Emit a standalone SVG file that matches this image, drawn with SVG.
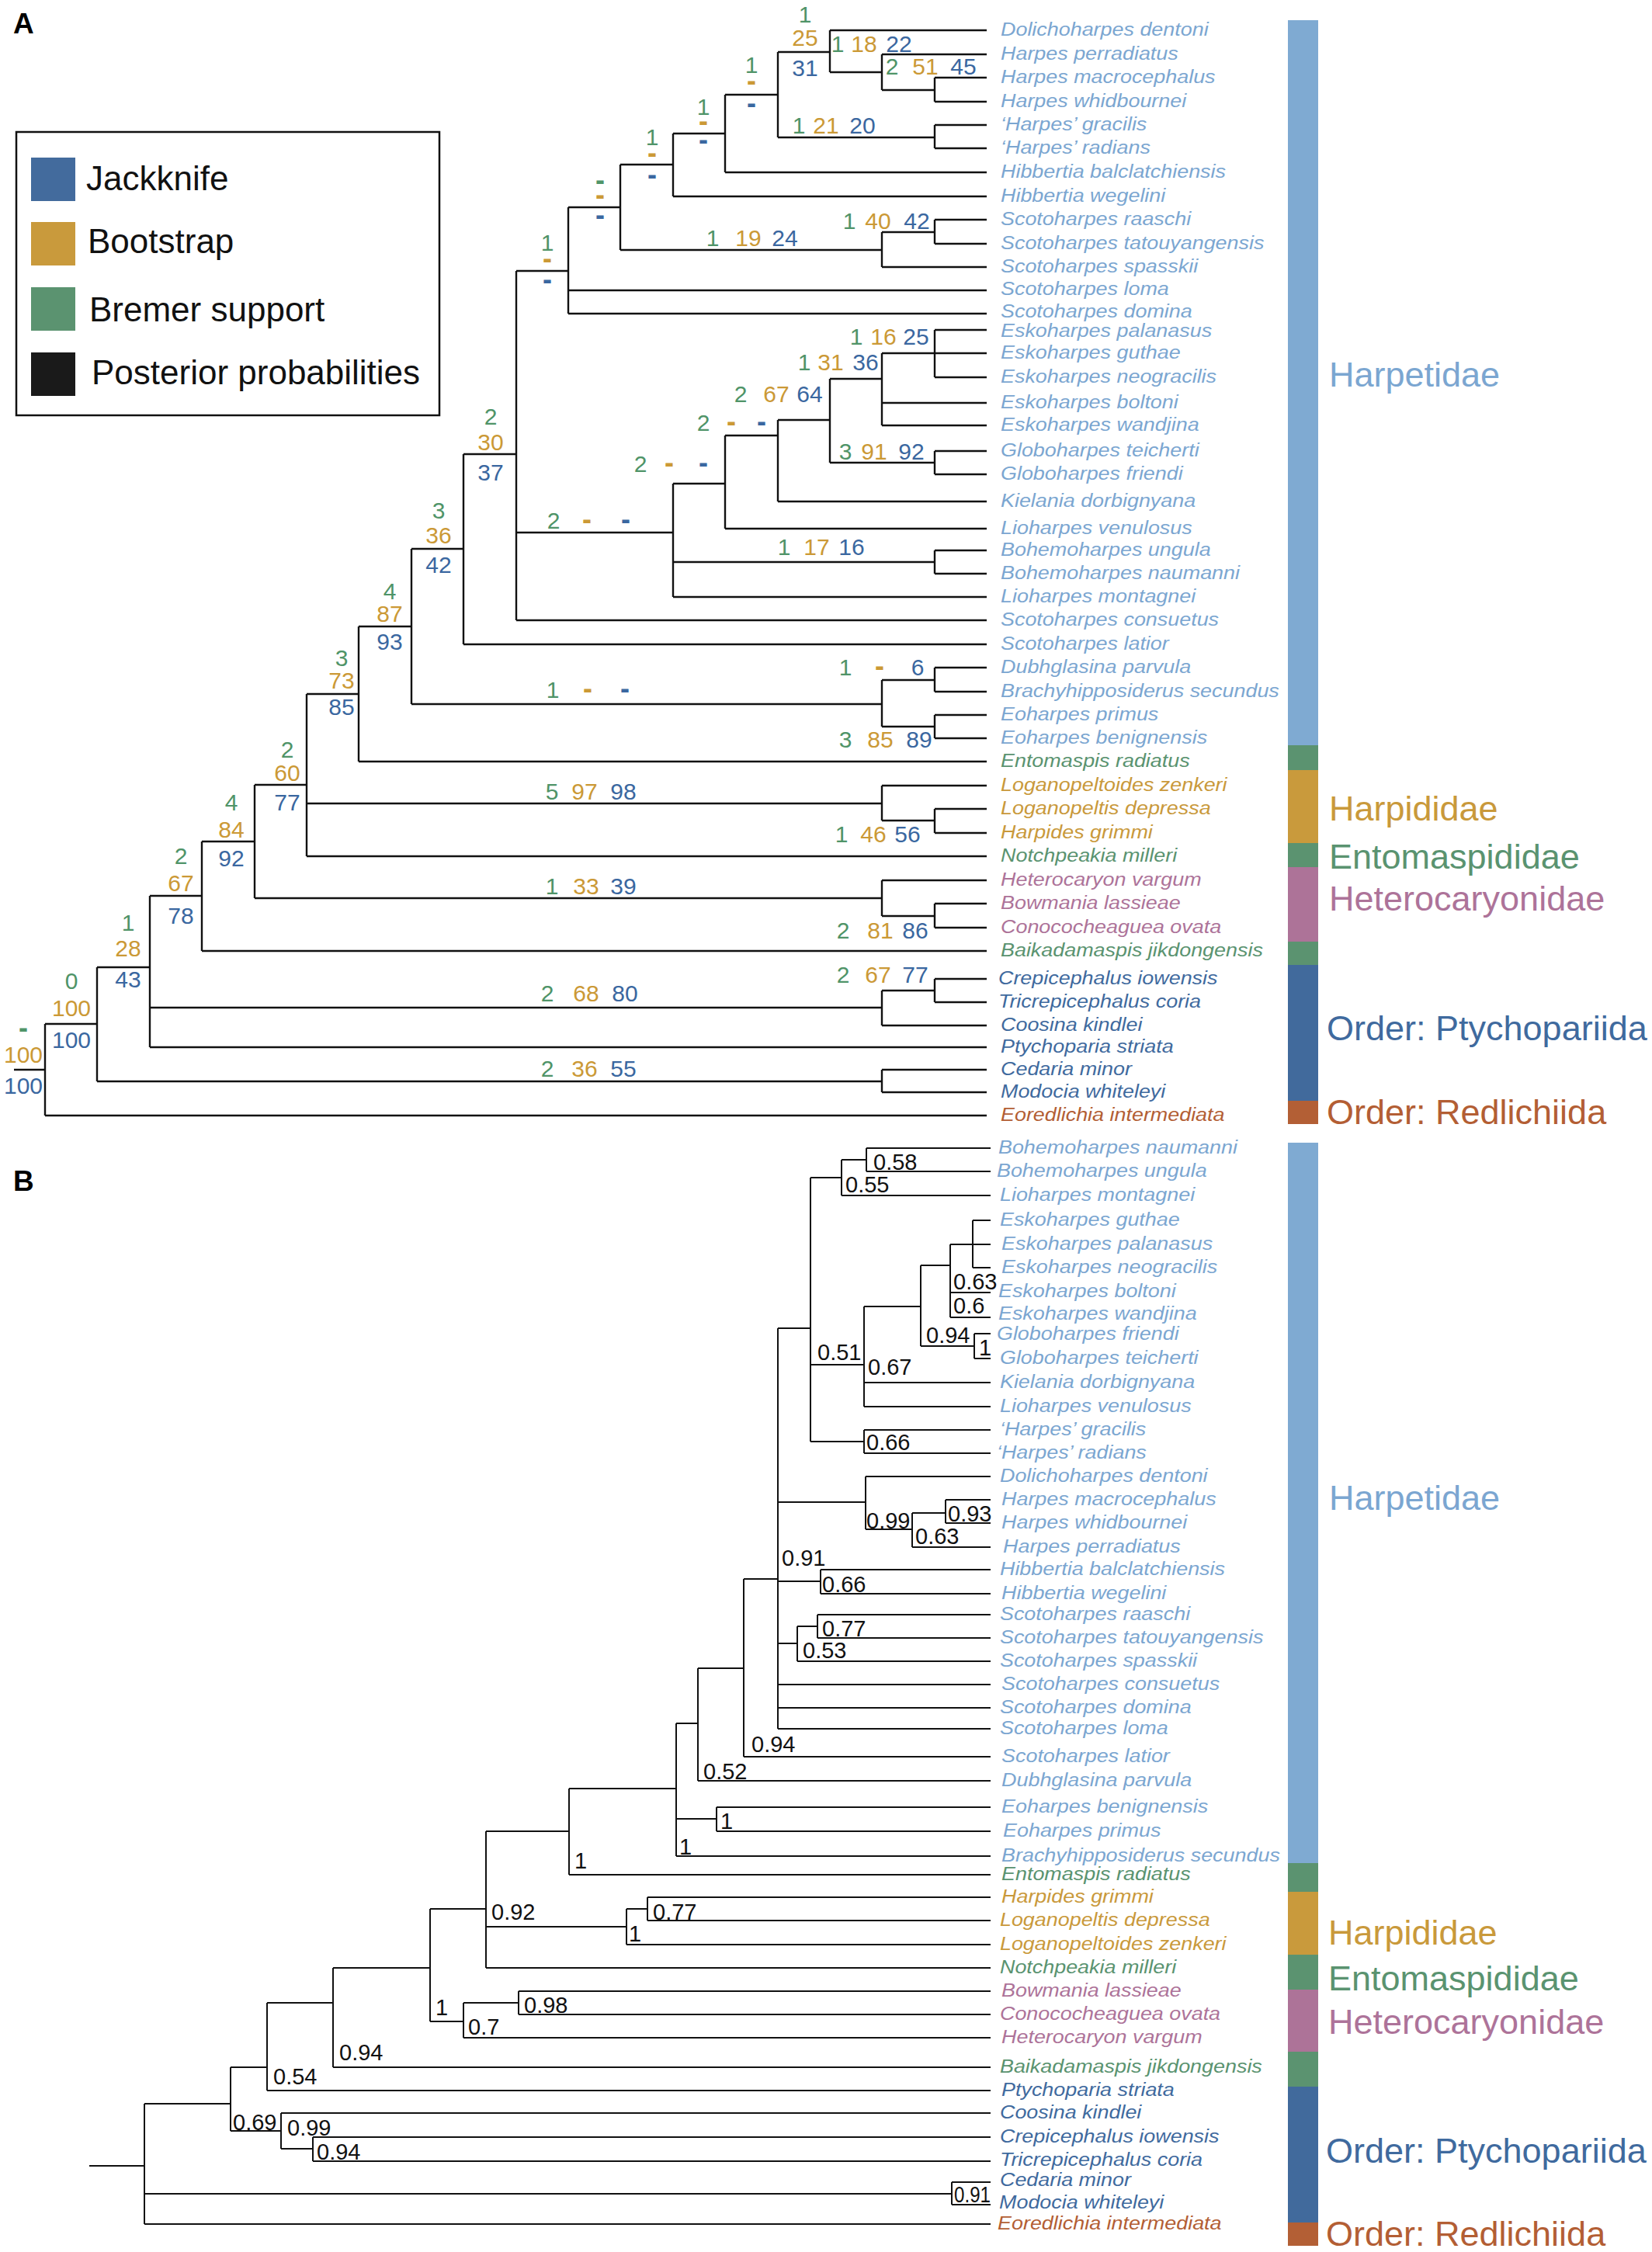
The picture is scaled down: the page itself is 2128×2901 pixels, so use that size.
<svg xmlns="http://www.w3.org/2000/svg" width="2128" height="2901" viewBox="0 0 2128 2901">
<style>
text{font-family:"Liberation Sans",Arial,sans-serif}
.tx{font-size:23px;font-style:italic}
.lb{fill:#7BA6D1}.gr{fill:#5A9370}.go{fill:#C9993B}.pk{fill:#AD7399}.db{fill:#3F6A9E}.rd{fill:#B35E34}
.n{font-size:30px;text-anchor:middle}
.ng{fill:#4F9468}.no{fill:#CB9936}.nb{fill:#3A67A0}
.d{font-weight:bold;font-size:36px}
.pp{font-size:29px;fill:#111}
.grp{font-size:45px}
.e{fill:none;stroke:#111;stroke-width:2.4}
.eb{fill:none;stroke:#111;stroke-width:2}
.lg{font-size:44px;fill:#111}
.pl{font-size:37px;font-weight:bold;fill:#000}
</style>
<rect width="2128" height="2901" fill="#fff"/>
<text class="pl" x="17" y="43">A</text>
<text class="pl" x="17" y="1534">B</text>
<g id="legend">
<rect x="21" y="170" width="545" height="365" fill="#fff" stroke="#111" stroke-width="2.5"/>
<rect x="40" y="203" width="57" height="56" fill="#436B9D"/>
<rect x="40" y="286" width="57" height="56" fill="#C99A3C"/>
<rect x="40" y="370" width="57" height="56" fill="#5B9370"/>
<rect x="40" y="454" width="57" height="56" fill="#1A1A1A"/>
<text class="lg" x="111" y="245">Jackknife</text>
<text class="lg" x="113" y="326">Bootstrap</text>
<text class="lg" x="115" y="414">Bremer support</text>
<text class="lg" x="118" y="495">Posterior probabilities</text>
</g>
<g id="A-edges" class="e">
<path d="M18 1378H58M58 1319V1437M58 1319H125M58 1437H1271"/>
<path d="M125 1246V1393M125 1246H193M125 1393H1136"/>
<path d="M193 1154V1349M193 1154H260M193 1298H1136M193 1349H1271"/>
<path d="M260 1084V1225M260 1084H328M260 1225H1271"/>
<path d="M328 1011V1157M328 1011H395M328 1157H1136"/>
<path d="M395 894V1103M395 894H462M395 1035H1136M395 1103H1271"/>
<path d="M462 807V981M462 807H530M462 981H1271"/>
<path d="M530 707V907M530 707H597M530 907H1136"/>
<path d="M597 585V830M597 585H665M597 830H1271"/>
<path d="M665 349V799M665 349H732M665 686H867M665 799H1271"/>
<path d="M732 267V404M732 267H799M732 374H1271M732 404H1271"/>
<path d="M799 212V322M799 212H867M799 322H1136"/>
<path d="M867 172V253M867 172H934M867 253H1271"/>
<path d="M934 122V222M934 122H1002M934 222H1271"/>
<path d="M1002 67V177M1002 67H1069M1002 177H1204"/>
<path d="M1069 39V93M1069 39H1271M1069 93H1136"/>
<path d="M1136 70V116M1136 70H1271M1136 116H1204"/>
<path d="M1204 100V131M1204 100H1271M1204 131H1271"/>
<path d="M1204 161V191M1204 161H1271M1204 191H1271"/>
<path d="M1136 299V344M1136 299H1204M1136 344H1271"/>
<path d="M1204 283V314M1204 283H1271M1204 314H1271"/>
<path d="M867 623V769M867 623H934M867 724H1204M867 769H1271"/>
<path d="M934 561V681M934 561H1002M934 681H1271"/>
<path d="M1002 541V646M1002 541H1069M1002 646H1271"/>
<path d="M1069 488V596M1069 488H1136M1069 596H1204"/>
<path d="M1136 455V548M1136 455H1204M1136 519H1271M1136 548H1271"/>
<path d="M1204 425V486M1204 425H1271M1204 455H1271M1204 486H1271"/>
<path d="M1204 581V611M1204 581H1271M1204 611H1271"/>
<path d="M1204 709V739M1204 709H1271M1204 739H1271"/>
<path d="M1136 876V936M1136 876H1204M1136 936H1204"/>
<path d="M1204 860V891M1204 860H1271M1204 891H1271"/>
<path d="M1204 921V951M1204 921H1271M1204 951H1271"/>
<path d="M1136 1012V1057M1136 1012H1271M1136 1057H1204"/>
<path d="M1204 1042V1073M1204 1042H1271M1204 1073H1271"/>
<path d="M1136 1134V1180M1136 1134H1271M1136 1180H1204"/>
<path d="M1204 1164V1195M1204 1164H1271M1204 1195H1271"/>
<path d="M1136 1276V1321M1136 1276H1204M1136 1321H1271"/>
<path d="M1204 1261V1291M1204 1261H1271M1204 1291H1271"/>
<path d="M1136 1378V1407M1136 1378H1271M1136 1407H1271"/>
</g>
<g id="A-support" class="n">
<g id="A-root"><text class="ng d" x="30" y="1336">-</text><text class="no" x="30" y="1369">100</text><text class="nb" x="30" y="1409">100</text></g>
<g id="A-n2"><text class="ng" x="92" y="1274">0</text><text class="no" x="92" y="1309">100</text><text class="nb" x="92" y="1350">100</text></g>
<g id="A-n3"><text class="ng" x="165" y="1199">1</text><text class="no" x="165" y="1232">28</text><text class="nb" x="165" y="1272">43</text></g>
<g id="A-n4"><text class="ng" x="233" y="1113">2</text><text class="no" x="233" y="1148">67</text><text class="nb" x="233" y="1190">78</text></g>
<g id="A-n5"><text class="ng" x="298" y="1044">4</text><text class="no" x="298" y="1079">84</text><text class="nb" x="298" y="1116">92</text></g>
<g id="A-n6"><text class="ng" x="370" y="976">2</text><text class="no" x="370" y="1006">60</text><text class="nb" x="370" y="1044">77</text></g>
<g id="A-n7"><text class="ng" x="440" y="858">3</text><text class="no" x="440" y="887">73</text><text class="nb" x="440" y="921">85</text></g>
<g id="A-n8"><text class="ng" x="502" y="772">4</text><text class="no" x="502" y="801">87</text><text class="nb" x="502" y="837">93</text></g>
<g id="A-n9"><text class="ng" x="565" y="668">3</text><text class="no" x="565" y="700">36</text><text class="nb" x="565" y="738">42</text></g>
<g id="A-n10"><text class="ng" x="632" y="547">2</text><text class="no" x="632" y="580">30</text><text class="nb" x="632" y="619">37</text></g>
<g id="A-n11"><text class="ng" x="705" y="323">1</text><text class="no d" x="705" y="345">-</text><text class="nb d" x="705" y="372">-</text></g>
<g id="A-n12"><text class="ng d" x="773" y="244">-</text><text class="no d" x="773" y="263">-</text><text class="nb d" x="773" y="289">-</text></g>
<g id="A-n13"><text class="ng" x="840" y="187">1</text><text class="no d" x="840" y="209">-</text><text class="nb d" x="840" y="237">-</text></g>
<g id="A-n14"><text class="ng" x="906" y="148">1</text><text class="no d" x="906" y="168">-</text><text class="nb d" x="906" y="192">-</text></g>
<g id="A-n15"><text class="ng" x="968" y="94">1</text><text class="no d" x="968" y="116">-</text><text class="nb d" x="968" y="145">-</text></g>
<g id="A-n16"><text class="ng" x="1037" y="29">1</text><text class="no" x="1037" y="59">25</text><text class="nb" x="1037" y="98">31</text></g>
<g id="A-n17"><text class="ng" x="1079" y="67">1</text><text class="no" x="1113" y="67">18</text><text class="nb" x="1158" y="67">22</text></g>
<g id="A-n18"><text class="ng" x="1149" y="96">2</text><text class="no" x="1192" y="96">51</text><text class="nb" x="1241" y="96">45</text></g>
<g id="A-hg"><text class="ng" x="1029" y="172">1</text><text class="no" x="1064" y="172">21</text><text class="nb" x="1111" y="172">20</text></g>
<g id="A-sc"><text class="ng" x="918" y="317">1</text><text class="no" x="964" y="317">19</text><text class="nb" x="1011" y="317">24</text></g>
<g id="A-sr"><text class="ng" x="1094" y="295">1</text><text class="no" x="1131" y="295">40</text><text class="nb" x="1181" y="295">42</text></g>
<g id="A-nf"><text class="ng" x="1103" y="444">1</text><text class="no" x="1138" y="444">16</text><text class="nb" x="1180" y="444">25</text></g>
<g id="A-ne"><text class="ng" x="1036" y="477">1</text><text class="no" x="1070" y="477">31</text><text class="nb" x="1115" y="477">36</text></g>
<g id="A-nd"><text class="ng" x="954" y="518">2</text><text class="no" x="1000" y="518">67</text><text class="nb" x="1043" y="518">64</text></g>
<g id="A-nc"><text class="ng" x="906" y="555">2</text><text class="no d" x="942" y="555">-</text><text class="nb d" x="981" y="555">-</text></g>
<g id="A-nb"><text class="ng" x="825" y="608">2</text><text class="no d" x="862" y="608">-</text><text class="nb d" x="906" y="608">-</text></g>
<g id="A-na"><text class="ng" x="713" y="681">2</text><text class="no d" x="756" y="681">-</text><text class="nb d" x="806" y="681">-</text></g>
<g id="A-gg"><text class="ng" x="1089" y="592">3</text><text class="no" x="1126" y="592">91</text><text class="nb" x="1174" y="592">92</text></g>
<g id="A-bn"><text class="ng" x="1010" y="715">1</text><text class="no" x="1052" y="715">17</text><text class="nb" x="1097" y="715">16</text></g>
<g id="A-dbn"><text class="ng" x="1089" y="870">1</text><text class="no d" x="1133" y="870">-</text><text class="nb" x="1182" y="870">6</text></g>
<g id="A-eo"><text class="ng" x="712" y="899">1</text><text class="no d" x="757" y="899">-</text><text class="nb d" x="805" y="899">-</text></g>
<g id="A-ee"><text class="ng" x="1089" y="963">3</text><text class="no" x="1134" y="963">85</text><text class="nb" x="1184" y="963">89</text></g>
<g id="A-har"><text class="ng" x="711" y="1030">5</text><text class="no" x="753" y="1030">97</text><text class="nb" x="803" y="1030">98</text></g>
<g id="A-lh"><text class="ng" x="1084" y="1085">1</text><text class="no" x="1125" y="1085">46</text><text class="nb" x="1169" y="1085">56</text></g>
<g id="A-het"><text class="ng" x="711" y="1152">1</text><text class="no" x="755" y="1152">33</text><text class="nb" x="803" y="1152">39</text></g>
<g id="A-bc"><text class="ng" x="1086" y="1209">2</text><text class="no" x="1134" y="1209">81</text><text class="nb" x="1179" y="1209">86</text></g>
<g id="A-cct"><text class="ng" x="705" y="1290">2</text><text class="no" x="755" y="1290">68</text><text class="nb" x="805" y="1290">80</text></g>
<g id="A-ct"><text class="ng" x="1086" y="1266">2</text><text class="no" x="1131" y="1266">67</text><text class="nb" x="1179" y="1266">77</text></g>
<g id="A-cm"><text class="ng" x="705" y="1387">2</text><text class="no" x="753" y="1387">36</text><text class="nb" x="803" y="1387">55</text></g>
</g>
<g id="A-taxa" class="tx" transform="translate(1289 0) scale(1.17 1)">
<g id="A-t01"><text class="lb" x="0" y="46">Dolichoharpes dentoni</text></g>
<g id="A-t02"><text class="lb" x="0" y="77">Harpes perradiatus</text></g>
<g id="A-t03"><text class="lb" x="0" y="107">Harpes macrocephalus</text></g>
<g id="A-t04"><text class="lb" x="0" y="138">Harpes whidbournei</text></g>
<g id="A-t05"><text class="lb" x="0" y="168">‘Harpes’ gracilis</text></g>
<g id="A-t06"><text class="lb" x="0" y="198">‘Harpes’ radians</text></g>
<g id="A-t07"><text class="lb" x="0" y="229">Hibbertia balclatchiensis</text></g>
<g id="A-t08"><text class="lb" x="0" y="260">Hibbertia wegelini</text></g>
<g id="A-t09"><text class="lb" x="0" y="290">Scotoharpes raaschi</text></g>
<g id="A-t10"><text class="lb" x="0" y="321">Scotoharpes tatouyangensis</text></g>
<g id="A-t11"><text class="lb" x="0" y="351">Scotoharpes spasskii</text></g>
<g id="A-t12"><text class="lb" x="0" y="380">Scotoharpes loma</text></g>
<g id="A-t13"><text class="lb" x="0" y="409">Scotoharpes domina</text></g>
<g id="A-t14"><text class="lb" x="0" y="434">Eskoharpes palanasus</text></g>
<g id="A-t15"><text class="lb" x="0" y="462">Eskoharpes guthae</text></g>
<g id="A-t16"><text class="lb" x="0" y="493">Eskoharpes neogracilis</text></g>
<g id="A-t17"><text class="lb" x="0" y="526">Eskoharpes boltoni</text></g>
<g id="A-t18"><text class="lb" x="0" y="555">Eskoharpes wandjina</text></g>
<g id="A-t19"><text class="lb" x="0" y="588">Globoharpes teicherti</text></g>
<g id="A-t20"><text class="lb" x="0" y="618">Globoharpes friendi</text></g>
<g id="A-t21"><text class="lb" x="0" y="653">Kielania dorbignyana</text></g>
<g id="A-t22"><text class="lb" x="0" y="688">Lioharpes venulosus</text></g>
<g id="A-t23"><text class="lb" x="0" y="716">Bohemoharpes ungula</text></g>
<g id="A-t24"><text class="lb" x="0" y="746">Bohemoharpes naumanni</text></g>
<g id="A-t25"><text class="lb" x="0" y="776">Lioharpes montagnei</text></g>
<g id="A-t26"><text class="lb" x="0" y="806">Scotoharpes consuetus</text></g>
<g id="A-t27"><text class="lb" x="0" y="837">Scotoharpes latior</text></g>
<g id="A-t28"><text class="lb" x="0" y="867">Dubhglasina parvula</text></g>
<g id="A-t29"><text class="lb" x="0" y="898">Brachyhipposiderus secundus</text></g>
<g id="A-t30"><text class="lb" x="0" y="928">Eoharpes primus</text></g>
<g id="A-t31"><text class="lb" x="0" y="958">Eoharpes benignensis</text></g>
<g id="A-t32"><text class="gr" x="0" y="988">Entomaspis radiatus</text></g>
<g id="A-t33"><text class="go" x="0" y="1019">Loganopeltoides zenkeri</text></g>
<g id="A-t34"><text class="go" x="0" y="1049">Loganopeltis depressa</text></g>
<g id="A-t35"><text class="go" x="0" y="1080">Harpides grimmi</text></g>
<g id="A-t36"><text class="gr" x="0" y="1110">Notchpeakia milleri</text></g>
<g id="A-t37"><text class="pk" x="0" y="1141">Heterocaryon vargum</text></g>
<g id="A-t38"><text class="pk" x="0" y="1171">Bowmania lassieae</text></g>
<g id="A-t39"><text class="pk" x="0" y="1202">Conococheaguea ovata</text></g>
<g id="A-t40"><text class="gr" x="0" y="1232">Baikadamaspis jikdongensis</text></g>
<g id="A-t41"><text class="db" x="-2.6" y="1268">Crepicephalus iowensis</text></g>
<g id="A-t42"><text class="db" x="-2.6" y="1298">Tricrepicephalus coria</text></g>
<g id="A-t43"><text class="db" x="0" y="1328">Coosina kindlei</text></g>
<g id="A-t44"><text class="db" x="0" y="1356">Ptychoparia striata</text></g>
<g id="A-t45"><text class="db" x="0" y="1385">Cedaria minor</text></g>
<g id="A-t46"><text class="db" x="0" y="1414">Modocia whiteleyi</text></g>
<g id="A-t47"><text class="rd" x="0" y="1444">Eoredlichia intermediata</text></g>
</g>
<g id="A-bar">
<rect x="1659" y="26" width="39" height="934" fill="#7FAAD2"/>
<rect x="1659" y="960" width="39" height="32" fill="#5B9370"/>
<rect x="1659" y="992" width="39" height="94" fill="#C99A3C"/>
<rect x="1659" y="1086" width="39" height="31" fill="#5B9370"/>
<rect x="1659" y="1117" width="39" height="96" fill="#AD7398"/>
<rect x="1659" y="1213" width="39" height="30" fill="#5B9370"/>
<rect x="1659" y="1243" width="39" height="175" fill="#416A9C"/>
<rect x="1659" y="1418" width="39" height="30" fill="#B35F35"/>
</g>
<g id="A-groups" class="grp">
<text class="lb" x="1712" y="498">Harpetidae</text>
<text class="go" x="1712" y="1057">Harpididae</text>
<text class="gr" x="1712" y="1119">Entomaspididae</text>
<text class="pk" x="1712" y="1173">Heterocaryonidae</text>
<text class="db" x="1709" y="1340">Order: Ptychopariida</text>
<text class="rd" x="1709" y="1448">Order: Redlichiida</text>
</g>
<g id="B-edges" class="eb">
<path d="M115 2790H186M186 2710V2865M186 2710H297M186 2826H1226M186 2865H1276"/>
<path d="M297 2663V2745M297 2663H344M297 2745H362"/>
<path d="M344 2580V2693M344 2580H429M344 2693H1276"/>
<path d="M362 2722V2768M362 2722H1276M362 2768H403"/>
<path d="M403 2753V2784M403 2753H1276M403 2784H1276"/>
<path d="M429 2535V2663M429 2535H554M429 2663H1276"/>
<path d="M554 2459V2604M554 2459H626M554 2604H597"/>
<path d="M597 2580V2625M597 2580H668M597 2625H1276"/>
<path d="M668 2565V2595M668 2565H1276M668 2595H1276"/>
<path d="M626 2359V2535M626 2359H733M626 2482H807M626 2535H1276"/>
<path d="M807 2459V2505M807 2459H834M807 2505H1276"/>
<path d="M834 2444V2474M834 2444H1276M834 2474H1276"/>
<path d="M733 2304V2415M733 2304H871M733 2415H1276"/>
<path d="M871 2220V2391M871 2220H899M871 2343H923M871 2391H1276"/>
<path d="M923 2328V2359M923 2328H1276M923 2359H1276"/>
<path d="M899 2149V2294M899 2149H958M899 2294H1276"/>
<path d="M958 2034V2263M958 2034H1002M958 2263H1276"/>
<path d="M1002 1711V2227M1002 1711H1044M1002 1935H1115M1002 2037H1057M1002 2117H1027M1002 2170H1276M1002 2200H1276M1002 2227H1276"/>
<path d="M1027 2095V2140M1027 2095H1053M1027 2140H1276"/>
<path d="M1053 2080V2110M1053 2080H1276M1053 2110H1276"/>
<path d="M1057 2022V2053M1057 2022H1276M1057 2053H1276"/>
<path d="M1115 1902V1970M1115 1902H1276M1115 1970H1175"/>
<path d="M1175 1949V1993M1175 1949H1218M1175 1993H1276"/>
<path d="M1218 1932V1962M1218 1932H1276M1218 1962H1276"/>
<path d="M1044 1517V1857M1044 1517H1084M1044 1758H1113M1044 1857H1113"/>
<path d="M1113 1842V1872M1113 1842H1276M1113 1872H1276"/>
<path d="M1113 1683V1812M1113 1683H1186M1113 1781H1276M1113 1812H1276"/>
<path d="M1186 1630V1734M1186 1630H1224M1186 1734H1255"/>
<path d="M1255 1718V1750M1255 1718H1276M1255 1750H1276"/>
<path d="M1224 1603V1697M1224 1603H1253M1224 1665H1276M1224 1697H1276"/>
<path d="M1253 1572V1633M1253 1572H1276M1253 1603H1276M1253 1633H1276"/>
<path d="M1084 1494V1540M1084 1494H1116M1084 1540H1276"/>
<path d="M1116 1479V1509M1116 1479H1276M1116 1509H1276"/>
<path d="M1226 2811V2840M1226 2811H1276M1226 2840H1276"/>
</g>
<g id="B-support" class="pp">
<text x="1125" y="1507">0.58</text>
<text x="1089" y="1536">0.55</text>
<text x="1228" y="1661">0.63</text>
<text x="1228" y="1692">0.6</text>
<text x="1193" y="1730">0.94</text>
<text x="1261" y="1746">1</text>
<text x="1053" y="1752">0.51</text>
<text x="1118" y="1771">0.67</text>
<text x="1116" y="1868">0.66</text>
<text x="1116" y="1969">0.99</text>
<text x="1221" y="1960">0.93</text>
<text x="1179" y="1989">0.63</text>
<text x="1007" y="2017">0.91</text>
<text x="1059" y="2051">0.66</text>
<text x="1059" y="2108">0.77</text>
<text x="1034" y="2136">0.53</text>
<text x="968" y="2257">0.94</text>
<text x="906" y="2292">0.52</text>
<text x="928" y="2356">1</text>
<text x="875" y="2389">1</text>
<text x="740" y="2407">1</text>
<text x="841" y="2473">0.77</text>
<text x="633" y="2473">0.92</text>
<text x="810" y="2501">1</text>
<text x="675" y="2593">0.98</text>
<text x="561" y="2596">1</text>
<text x="603" y="2621">0.7</text>
<text x="437" y="2654">0.94</text>
<text x="352" y="2685">0.54</text>
<text x="300" y="2744">0.69</text>
<text x="370" y="2751">0.99</text>
<text x="408" y="2782">0.94</text>
<text x="1229" y="2837" textLength="47" lengthAdjust="spacingAndGlyphs">0.91</text>
</g>
<g id="B-taxa" class="tx" transform="translate(1289 0) scale(1.17 1)">
<g id="B-t01"><text class="lb" x="-2.6" y="1486">Bohemoharpes naumanni</text></g>
<g id="B-t02"><text class="lb" x="-4.3" y="1516">Bohemoharpes ungula</text></g>
<g id="B-t03"><text class="lb" x="-0.9" y="1547">Lioharpes montagnei</text></g>
<g id="B-t04"><text class="lb" x="-0.9" y="1579">Eskoharpes guthae</text></g>
<g id="B-t05"><text class="lb" x="0.9" y="1610">Eskoharpes palanasus</text></g>
<g id="B-t06"><text class="lb" x="0.9" y="1640">Eskoharpes neogracilis</text></g>
<g id="B-t07"><text class="lb" x="-2.6" y="1671">Eskoharpes boltoni</text></g>
<g id="B-t08"><text class="lb" x="-2.6" y="1700">Eskoharpes wandjina</text></g>
<g id="B-t09"><text class="lb" x="-4.3" y="1726">Globoharpes friendi</text></g>
<g id="B-t10"><text class="lb" x="-0.9" y="1757">Globoharpes teicherti</text></g>
<g id="B-t11"><text class="lb" x="-0.9" y="1788">Kielania dorbignyana</text></g>
<g id="B-t12"><text class="lb" x="-0.9" y="1819">Lioharpes venulosus</text></g>
<g id="B-t13"><text class="lb" x="-0.9" y="1849">‘Harpes’ gracilis</text></g>
<g id="B-t14"><text class="lb" x="-4.3" y="1879">‘Harpes’ radians</text></g>
<g id="B-t15"><text class="lb" x="-0.9" y="1909">Dolichoharpes dentoni</text></g>
<g id="B-t16"><text class="lb" x="0.9" y="1939">Harpes macrocephalus</text></g>
<g id="B-t17"><text class="lb" x="0.9" y="1969">Harpes whidbournei</text></g>
<g id="B-t18"><text class="lb" x="2.6" y="2000">Harpes perradiatus</text></g>
<g id="B-t19"><text class="lb" x="-0.9" y="2029">Hibbertia balclatchiensis</text></g>
<g id="B-t20"><text class="lb" x="0.9" y="2060">Hibbertia wegelini</text></g>
<g id="B-t21"><text class="lb" x="-0.9" y="2087">Scotoharpes raaschi</text></g>
<g id="B-t22"><text class="lb" x="-0.9" y="2117">Scotoharpes tatouyangensis</text></g>
<g id="B-t23"><text class="lb" x="-0.9" y="2147">Scotoharpes spasskii</text></g>
<g id="B-t24"><text class="lb" x="0.9" y="2177">Scotoharpes consuetus</text></g>
<g id="B-t25"><text class="lb" x="-0.9" y="2207">Scotoharpes domina</text></g>
<g id="B-t26"><text class="lb" x="-0.9" y="2234">Scotoharpes loma</text></g>
<g id="B-t27"><text class="lb" x="0.9" y="2270">Scotoharpes latior</text></g>
<g id="B-t28"><text class="lb" x="0.9" y="2301">Dubhglasina parvula</text></g>
<g id="B-t29"><text class="lb" x="0.9" y="2335">Eoharpes benignensis</text></g>
<g id="B-t30"><text class="lb" x="2.6" y="2366">Eoharpes primus</text></g>
<g id="B-t31"><text class="lb" x="0.9" y="2398">Brachyhipposiderus secundus</text></g>
<g id="B-t32"><text class="gr" x="0.9" y="2422">Entomaspis radiatus</text></g>
<g id="B-t33"><text class="go" x="0.9" y="2451">Harpides grimmi</text></g>
<g id="B-t34"><text class="go" x="-0.9" y="2481">Loganopeltis depressa</text></g>
<g id="B-t35"><text class="go" x="-0.9" y="2512">Loganopeltoides zenkeri</text></g>
<g id="B-t36"><text class="gr" x="-0.9" y="2542">Notchpeakia milleri</text></g>
<g id="B-t37"><text class="pk" x="0.9" y="2572">Bowmania lassieae</text></g>
<g id="B-t38"><text class="pk" x="-0.9" y="2602">Conococheaguea ovata</text></g>
<g id="B-t39"><text class="pk" x="0.9" y="2632">Heterocaryon vargum</text></g>
<g id="B-t40"><text class="gr" x="-0.9" y="2670">Baikadamaspis jikdongensis</text></g>
<g id="B-t41"><text class="db" x="0.9" y="2700">Ptychoparia striata</text></g>
<g id="B-t42"><text class="db" x="-0.9" y="2729">Coosina kindlei</text></g>
<g id="B-t43"><text class="db" x="-0.9" y="2760">Crepicephalus iowensis</text></g>
<g id="B-t44"><text class="db" x="-0.9" y="2790">Tricrepicephalus coria</text></g>
<g id="B-t45"><text class="db" x="-0.9" y="2816">Cedaria minor</text></g>
<g id="B-t46"><text class="db" x="-1.7" y="2845">Modocia whiteleyi</text></g>
<g id="B-t47"><text class="rd" x="-3.4" y="2872">Eoredlichia intermediata</text></g>
</g>
<g id="B-bar">
<rect x="1659" y="1472" width="39" height="928" fill="#7FAAD2"/>
<rect x="1659" y="2400" width="39" height="37" fill="#5B9370"/>
<rect x="1659" y="2437" width="39" height="81" fill="#C99A3C"/>
<rect x="1659" y="2518" width="39" height="45" fill="#5B9370"/>
<rect x="1659" y="2563" width="39" height="80" fill="#AD7398"/>
<rect x="1659" y="2643" width="39" height="45" fill="#5B9370"/>
<rect x="1659" y="2688" width="39" height="175" fill="#416A9C"/>
<rect x="1659" y="2863" width="39" height="30" fill="#B35F35"/>
</g>
<g id="B-groups" class="grp">
<text class="lb" x="1712" y="1945">Harpetidae</text>
<text class="go" x="1711" y="2505">Harpididae</text>
<text class="gr" x="1711" y="2564">Entomaspididae</text>
<text class="pk" x="1711" y="2620">Heterocaryonidae</text>
<text class="db" x="1708" y="2786">Order: Ptychopariida</text>
<text class="rd" x="1708" y="2893">Order: Redlichiida</text>
</g>
</svg>
